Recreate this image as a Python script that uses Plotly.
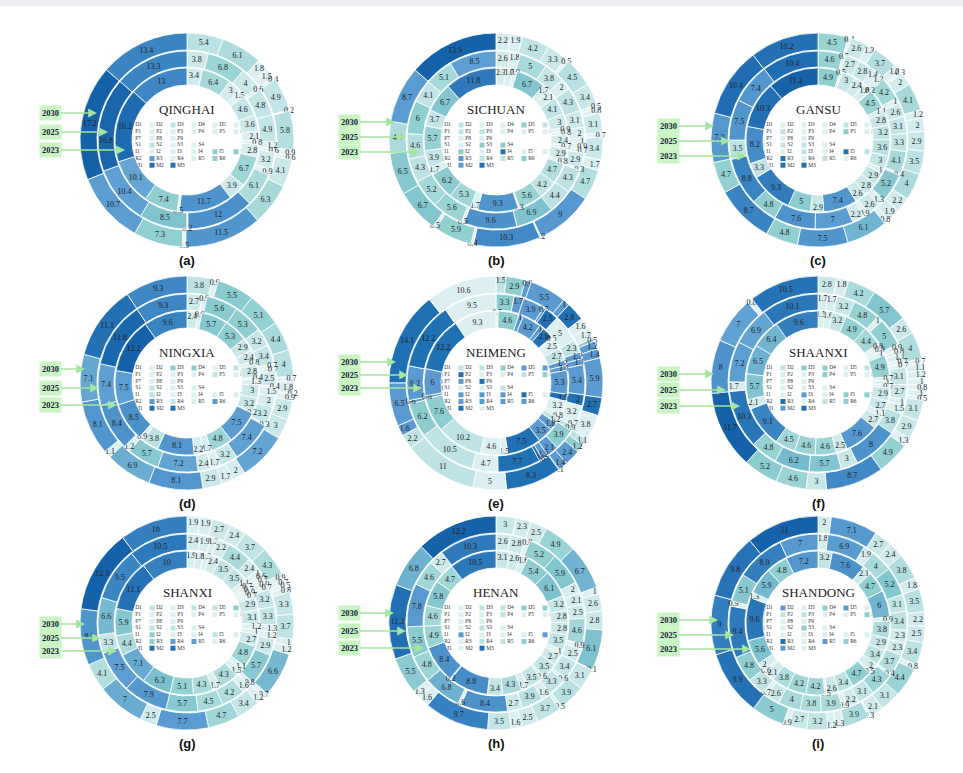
import plotly.graph_objects as go

W, H = 963, 773

# ---------------- data ----------------
CATEGORIES = ["D1", "D2", "D3", "D4", "D5", "D6",
              "P1", "P2", "P3", "P4", "P5", "P6", "P7", "P8", "P9",
              "S1", "S2", "S3", "S4",
              "I1", "I2", "I3", "I4", "I5",
              "R1", "R2", "R3", "R4", "R5", "R6",
              "M1", "M2", "M3"]
YEARS = ["2030", "2025", "2023"]

QINGHAI_2023 = [3.4, 6.4, 3, 1.5, 4.6, 3.6, 2.1, 0.8, 2.8, 6.7, 3.9, 11.7, 0.5, 7.4, 10.1, 16.2, 13]
QINGHAI_2025 = [3.8, 6.8, 4, 0.6, 4.8, 4.9, 1.2, 0.6, 3.2, 0.9, 6.1, 12, 0.2, 8.5, 10.4, 16.8, 13.3]
QINGHAI_2030 = [5.4, 6.1, 1.8, 1.5, 0.4, 4.9, 0.2, 5.8, 0.9, 0.6, 4.1, 6.3, 11.5, 0.5, 7.3, 10.7, 17.2, 13.4]

SICHUAN_2023 = [2.3, 1.7, 0.9, 6.7, 1.7, 2.1, 4.1, 3, 0.9, 0.8, 2.4, 0.7, 2.9, 0.8, 4.7, 4.2, 5.6, 0.3,
                9.3, 1.7, 5.3, 6.2, 1.7, 3.9, 5.7, 3.7, 6.7, 11.8]
SICHUAN_2025 = [2.6, 1.8, 5, 3.8, 2, 4.3, 3.1, 2, 1, 0.9, 0.7, 2.9, 0.3, 4.3, 4.4, 6.9, 9.6, 0.5,
                5.6, 5.2, 4.3, 4.6, 6, 4.1, 5.1, 8.5]
SICHUAN_2030 = [2.2, 1.9, 4.2, 3.3, 0.5, 4.5, 3.4, 0.5, 0.8, 3.1, 0.7, 3.4, 1.7, 4.7, 9, 0.2, 10.3, 0.4,
                5.9, 0.5, 6.7, 6.5, 4.9, 8.7, 13.9]

GANSU_2023 = [4.9, 0.5, 3, 2.4, 1.8, 0.2, 4.5, 1.1, 2.8, 3.2, 3.6, 3, 1, 2.9, 2.8, 2.6, 7.4, 2.9,
              5, 9.3, 3.3, 8.2, 10.3, 11.2]
GANSU_2025 = [4.6, 0.5, 2.7, 2.8, 1.4, 1.2, 4.2, 1, 2.6, 3.1, 3.3, 4.1, 0.4, 5.2, 1.3, 2.6, 0.9, 2.2,
              7, 7.6, 4.8, 8.8, 3.5, 7.5, 7.4, 10.4]
GANSU_2030 = [4.5, 0.4, 2.6, 1.3, 3.7, 1.2, 0.3, 2, 4.1, 1.2, 2, 2.9, 3.5, 4, 2.2, 1.9, 0.8, 6.1,
              7.5, 4.8, 8.7, 4.7, 7.3, 10.4, 10.2]

NINGXIA_2023 = [2.4, 0.9, 5.7, 5.3, 2.9, 2.4, 0.8, 2.8, 0.4, 1.3, 3, 3.2, 0.2, 7.5, 4.8, 1.7, 2.2,
                8.1, 3.8, 0.9, 8.5, 7.5, 12.2, 9.6]
NINGXIA_2025 = [2.7, 0.9, 5.6, 5.3, 3.2, 3.4, 0.7, 0.7, 2.5, 0.4, 1.5, 2, 3.2, 0.3, 7.4, 3.2, 1.7,
                2.4, 7.2, 5.7, 1.2, 8.4, 7.4, 11.8, 9.3]
NINGXIA_2030 = [3.8, 0.9, 5.5, 5.1, 4.4, 4, 0.7, 1.8, 0.2, 0.9, 2.9, 3, 7.2, 2, 1.7, 2.9, 8.1, 6.9,
                1.1, 8.1, 7.1, 11.1, 9.3]

NEIMENG_2023 = [0.5, 4.6, 1, 4.2, 1, 2.6, 0.5, 2.5, 2.7, 1.2, 1.1, 5.3, 1.5, 3.2, 0.8, 1.2, 1.8, 3.5,
                7.5, 1.5, 4.6, 10.2, 7.6, 0.6, 6, 12.2, 9.3]
NEIMENG_2025 = [3.3, 1.7, 3.9, 0.5, 2.5, 5, 2.3, 1.2, 1.1, 5.4, 2, 3.2, 0.7, 0.9, 3.9, 2.1, 1.2, 0.6,
                7.7, 4.7, 10.5, 6.2, 0.6, 6.2, 12.2, 9.5]
NEIMENG_2030 = [1.5, 2.9, 0.9, 5.5, 1, 2.8, 1.6, 1.7, 0.5, 1.2, 1.4, 5.9, 2.7, 3.8, 1.1, 1.2, 2.4, 1.4,
                0.1, 8.3, 5, 11, 2.2, 1.6, 6.5, 14.1, 10.6]

SHAANXI_2023 = [1.5, 1.6, 3.2, 4.9, 4.4, 0.8, 0.9, 1, 4.9, 0.7, 1, 0.7, 2.9, 2.7, 1.1, 2.7, 7.6, 2.5,
                4.6, 4.6, 4.5, 9.1, 2.1, 5.7, 6.5, 6.4, 9.6]
SHAANXI_2025 = [1.7, 1.7, 3.2, 4.8, 1, 5, 0.9, 0.8, 1.1, 0.7, 0.7, 3.1, 2.7, 1, 1.5, 3.8, 8, 3, 5.7,
                6.2, 4.8, 10.3, 1.7, 7.2, 6.9, 10.1]
SHAANXI_2030 = [2.8, 1.8, 4.2, 5.7, 2.6, 4, 0.7, 1.1, 1.2, 1, 0.8, 1, 0.5, 3.1, 2.9, 1.3, 4.9, 8.7, 3,
                4.6, 5.2, 11.7, 8, 7, 0.8, 10.5]

SHANXI_2023 = [1.9, 1.8, 1.3, 2.4, 3.5, 3.5, 1.1, 0.7, 0.7, 0.9, 0.7, 2.9, 3.1, 1.2, 1, 2.7, 4.8, 1.1,
               1.5, 4.3, 1.7, 4.3, 5.1, 6.3, 7.1, 4.4, 5.9, 11.1, 10]
SHANXI_2025 = [2.4, 1.9, 1.2, 2.2, 4.4, 2.4, 1, 0.6, 0.7, 0.9, 0.7, 3.2, 3.3, 1.3, 1.2, 2.9, 5.7, 0.8,
               1.6, 4.2, 4.5, 5.7, 7.9, 7.5, 3.3, 6.6, 9.5, 10.5]
SHANXI_2030 = [1.9, 1.9, 2.7, 2.4, 3.7, 4.3, 0.9, 0.7, 0.5, 0.8, 3.3, 3.7, 1, 1.2, 6.6, 0.7, 1.2, 3.4,
               4.7, 7.7, 2.5, 7, 4.1, 8.3, 12.3, 10]

HENAN_2023 = [3.1, 2.6, 1.6, 5.4, 6.1, 3.2, 2.8, 2.8, 3.5, 1, 2.7, 3.5, 0.6, 3.5, 1.7, 4.3, 3.4, 8.8,
              0.2, 8.4, 4.9, 4.6, 5.8, 4.7, 10.5]
HENAN_2025 = [2.6, 2.8, 0.8, 5.2, 5.9, 2, 2.1, 2.5, 4.6, 0.9, 2.5, 3.4, 0.6, 3.3, 1.6, 3.9, 2.7, 8.4,
              0.6, 6.8, 4.8, 5.5, 7.8, 4.6, 2.7, 10.3]
HENAN_2030 = [3, 2.3, 2.5, 4.9, 6.7, 1, 2.6, 2.8, 6.1, 0.1, 3.1, 3.9, 0.5, 3.7, 2.5, 1.6, 3.5, 9.7,
              1.6, 1.3, 5.5, 11.2, 6.8, 12.2]

SHANDONG_2023 = [3.2, 7.6, 2.1, 4.7, 6, 0.9, 3.8, 2.9, 3.4, 2, 0.5, 4.7, 3.4, 2.6, 0.5, 4.2, 4.2, 3.8,
                 2.1, 0.6, 2, 5.6, 9.6, 1.3, 5.9, 4.8, 7.2]
SHANDONG_2025 = [1.8, 6.9, 1.9, 4, 5.2, 3.1, 3.4, 2.3, 2.3, 3.7, 0.4, 4.3, 3.1, 2.2, 0.9, 3.9, 3.8, 4,
                 2.6, 0.7, 3.3, 4.8, 9.4, 0.9, 5.1, 8.9, 7]
SHANDONG_2030 = [2, 7.1, 2.7, 2.4, 3.8, 1.8, 3.5, 2.2, 2.5, 3.4, 0.8, 4.4, 3.1, 2.1, 0.3, 3.9, 1.3, 1.2,
                 3.2, 2.7, 0.9, 5, 9.9, 9, 9.8, 11]

# legend swatch shade levels (0 lightest .. 4 darkest), in CATEGORIES order
QINGHAI_LEGEND = [0, 0, 1, 0, 0, 0, 0, 0, 0, 0, 0, 0, 0, 0, 0, 0, 1, 0, 0, 0, 0, 0, 0, 2, 2, 0, 3, 0, 0, 2, 3, 4, 4]
SICHUAN_LEGEND = [1, 1, 0, 0, 2, 1, 1, 1, 1, 0, 0, 0, 0, 0, 0, 0, 0, 2, 2, 0, 2, 0, 4, 0, 0, 2, 3, 1, 1, 2, 2, 3, 4]
GANSU_LEGEND = [2, 0, 0, 0, 1, 0, 0, 1, 0, 0, 2, 0, 0, 0, 0, 1, 1, 1, 0, 0, 0, 1, 0, 4, 1, 3, 4, 0, 1, 0, 3, 4, 4]
NINGXIA_LEGEND = [0, 0, 2, 2, 0, 1, 0, 0, 0, 0, 1, 0, 0, 0, 0, 0, 1, 0, 0, 3, 1, 0, 0, 0, 0, 0, 3, 1, 0, 3, 3, 4, 4]
NEIMENG_LEGEND = [0, 1, 1, 2, 3, 3, 3, 4, 0, 0, 1, 2, 3, 3, 4, 4, 0, 0, 1, 2, 3, 3, 3, 4, 0, 0, 3, 3, 3, 3, 3, 4, 0]
SHAANXI_LEGEND = [1, 1, 2, 2, 0, 1, 0, 0, 0, 2, 0, 0, 0, 0, 0, 0, 0, 0, 0, 0, 0, 3, 0, 2, 2, 3, 4, 0, 1, 2, 3, 3, 4]
SHANXI_LEGEND = [0, 1, 0, 1, 1, 2, 0, 0, 0, 0, 0, 0, 0, 0, 0, 0, 1, 1, 0, 0, 2, 0, 0, 1, 0, 2, 2, 3, 3, 0, 2, 4, 4]
HENAN_LEGEND = [1, 0, 1, 1, 2, 2, 0, 0, 0, 1, 0, 0, 0, 0, 0, 0, 0, 1, 0, 0, 3, 0, 0, 0, 3, 2, 0, 1, 1, 2, 2, 0, 4]
SHANDONG_LEGEND = [0, 3, 0, 2, 3, 0, 1, 1, 1, 0, 0, 2, 1, 0, 0, 2, 0, 2, 0, 0, 0, 0, 0, 0, 0, 3, 4, 0, 3, 2, 0, 3, 0]

# ---------------- styles ----------------
# NEIMENG uses its own per-segment shading (levels 0..4)
NEIMENG_SHADE_2023 = [0, 2, 3, 3, 3, 4, 0, 0, 1, 3, 3, 3, 4, 0, 0, 1, 3, 3, 4, 0, 0, 1, 2, 3, 3, 4, 0]
NEIMENG_SHADE_2025 = [2, 3, 3, 3, 4, 0, 1, 3, 3, 3, 4, 0, 0, 1, 2, 3, 3, 4, 4, 0, 1, 2, 3, 3, 4, 0]
NEIMENG_SHADE_2030 = [1, 2, 3, 3, 3, 4, 0, 0, 2, 3, 3, 3, 4, 0, 1, 2, 3, 3, 4, 4, 0, 1, 1, 3, 3, 4, 0]

LEVEL_COLORS = ["#dcf0f2", "#bde3e5", "#8dcdcf", "#5a9ad0", "#2070b4"]

STOPS = [(0.0, (228, 244, 246)), (0.15, (216, 238, 240)), (0.3, (192, 228, 230)),
         (0.42, (146, 208, 209)), (0.52, (122, 190, 206)), (0.6, (96, 160, 211)),
         (0.75, (64, 136, 197)), (0.9, (38, 114, 182)), (1.0, (22, 98, 170))]


def value_color(t):
    t = max(0.0, min(1.0, t))
    for (t0, c0), (t1, c1) in zip(STOPS[:-1], STOPS[1:]):
        if t <= t1:
            f = (t - t0) / (t1 - t0) if t1 > t0 else 0
            c = [round(a + (b - a) * f) for a, b in zip(c0, c1)]
            return "rgb(%d,%d,%d)" % tuple(c)
    return "rgb(%d,%d,%d)" % STOPS[-1][1]


PANELS = [
    dict(name="QINGHAI", tag="(a)", rings=[QINGHAI_2030, QINGHAI_2025, QINGHAI_2023], legend=QINGHAI_LEGEND),
    dict(name="SICHUAN", tag="(b)", rings=[SICHUAN_2030, SICHUAN_2025, SICHUAN_2023], legend=SICHUAN_LEGEND),
    dict(name="GANSU", tag="(c)", rings=[GANSU_2030, GANSU_2025, GANSU_2023], legend=GANSU_LEGEND),
    dict(name="NINGXIA", tag="(d)", rings=[NINGXIA_2030, NINGXIA_2025, NINGXIA_2023], legend=NINGXIA_LEGEND),
    dict(name="NEIMENG", tag="(e)", rings=[NEIMENG_2030, NEIMENG_2025, NEIMENG_2023], legend=NEIMENG_LEGEND,
         shades=[NEIMENG_SHADE_2030, NEIMENG_SHADE_2025, NEIMENG_SHADE_2023]),
    dict(name="SHAANXI", tag="(f)", rings=[SHAANXI_2030, SHAANXI_2025, SHAANXI_2023], legend=SHAANXI_LEGEND),
    dict(name="SHANXI", tag="(g)", rings=[SHANXI_2030, SHANXI_2025, SHANXI_2023], legend=SHANXI_LEGEND),
    dict(name="HENAN", tag="(h)", rings=[HENAN_2030, HENAN_2025, HENAN_2023], legend=HENAN_LEGEND),
    dict(name="SHANDONG", tag="(i)", rings=[SHANDONG_2030, SHANDONG_2025, SHANDONG_2023], legend=SHANDONG_LEGEND),
]

# layout geometry (pixels)
COL_X = [187, 496, 818]
ROW_Y = [140, 383, 623]
BOX_X = [50, 349, 668]
RING_R = [(90, 107), (73, 89), (55, 72)]  # outer(2030), middle(2025), inner(2023)
ARROW_DY = [(-27, -8, 10), (-18, -3, 12), (-14, 1, 16),
            (-14, 5, 22), (-21, -8, 5), (-9, 7, 23),
            (1, 15, 28), (-10, 8, 25), (-3, 12, 26)]
ARROW_DX = [(-90, -79, -62), (-101, -90, -76), (-104, -88, -72),
            (-102, -88, -70), (-100, -88, -74), (-104, -92, -78),
            (-102, -86, -70), (-102, -90, -72), (-100, -84, -67)]
LEGEND_ROWS = [["D1", "D2", "D3", "D4", "D5", "D6"],
               ["P1", "P2", "P3", "P4", "P5", "P6"],
               ["P7", "P8", "P9"],
               ["S1", "S2", "S3", "S4"],
               ["I1", "I2", "I3", "I4", "I5", "R1"],
               ["R2", "R3", "R4", "R5", "R6"],
               ["M1", "M2", "M3"]]

LABEL_FONT = dict(family="Liberation Serif", size=8, color="#222")


def fmt(v):
    return f"{v:g}"


def ring_labels(n):
    if n <= 3:
        return CATEGORIES[-n:]
    head = CATEGORIES[:min(n - 3, 30)]
    extra = [f"X{i}" for i in range(n - 3 - len(head))]
    return head + extra + CATEGORIES[-3:]


fig = go.Figure()
annotations = []
leg_x, leg_y, leg_c, leg_t = [], [], [], []

for idx, p in enumerate(PANELS):
    cx = COL_X[idx % 3]
    cy = ROW_Y[idx // 3]
    vmax = max(max(r) for r in p["rings"])
    for k, vals in enumerate(p["rings"]):
        r_in, r_out = RING_R[k]
        if "shades" in p:
            colors = [LEVEL_COLORS[s] for s in p["shades"][k]]
        else:
            colors = [value_color(v / vmax) for v in vals]
        fig.add_trace(go.Pie(
            values=vals, labels=ring_labels(len(vals)),
            text=[fmt(v) for v in vals], textinfo="text",
            textposition="inside", insidetextorientation="horizontal",
            sort=False, direction="clockwise", rotation=0,
            hole=r_in / r_out,
            marker=dict(colors=colors, line=dict(color="white", width=0.8)),
            domain=dict(x=[(cx - r_out) / W, (cx + r_out) / W],
                        y=[1 - (cy + r_out) / H, 1 - (cy - r_out) / H]),
            textfont=LABEL_FONT, insidetextfont=LABEL_FONT, outsidetextfont=LABEL_FONT,
            showlegend=False, name=f"{p['name']} {YEARS[k]}",
            hovertemplate="%{label}: %{value}<extra>" + f"{p['name']} {YEARS[k]}" + "</extra>",
        ))
    # legend inside hole
    lev = dict(zip(CATEGORIES, p["legend"]))
    for ri, row in enumerate(LEGEND_ROWS):
        for ci, cat in enumerate(row):
            leg_x.append(cx - 56 + 21 * ci)
            leg_y.append(cy - 15 + 6.7 * ri)
            leg_c.append(LEVEL_COLORS[lev[cat]])
            leg_t.append(cat)
    # title
    annotations.append(dict(x=cx, y=cy - 31, xref="x", yref="y", text=p["name"], showarrow=False,
                            font=dict(family="Liberation Serif", size=13, color="#222")))
    # panel tag
    annotations.append(dict(x=cx, y=cy + 120, xref="x", yref="y", text=f"<b>{p['tag']}</b>", showarrow=False,
                            font=dict(family="Liberation Sans", size=13, color="#111")))
    # year arrows
    for k, year in enumerate(YEARS):
        dy = ARROW_DY[idx][k]
        dx = ARROW_DX[idx][k]
        annotations.append(dict(
            x=cx + dx, y=cy + dy, xref="x", yref="y",
            ax=BOX_X[idx % 3], ay=cy + dy, axref="x", ayref="y",
            text=f"<b>{year}</b>", showarrow=True,
            arrowhead=2, arrowsize=1.1, arrowwidth=1.6, arrowcolor="#a3e6a0",
            bgcolor="#c8f5c2", borderpad=2,
            font=dict(family="Liberation Serif", size=8.5, color="#1b1b40")))

fig.add_trace(go.Scatter(
    x=leg_x, y=leg_y, mode="markers+text", text=leg_t, textposition="middle right",
    marker=dict(symbol="square", size=5, color=leg_c, line=dict(width=0)),
    textfont=dict(family="Liberation Serif", size=5.5, color="#333"),
    hoverinfo="skip", showlegend=False, cliponaxis=False))

fig.update_layout(
    width=W, height=H, margin=dict(l=0, r=0, t=0, b=0),
    paper_bgcolor="white", plot_bgcolor="rgba(0,0,0,0)",
    xaxis=dict(range=[0, W], visible=False, fixedrange=True, domain=[0, 1]),
    yaxis=dict(range=[H, 0], visible=False, fixedrange=True, domain=[0, 1]),
    uniformtext=dict(minsize=8, mode="show"),
    annotations=annotations,
    shapes=[dict(type="rect", xref="paper", yref="paper", x0=0, x1=1, y0=1 - 6 / H, y1=1,
                 fillcolor="#eef0f4", line=dict(width=0), layer="below")],
)

fig.write_html("out.html")
